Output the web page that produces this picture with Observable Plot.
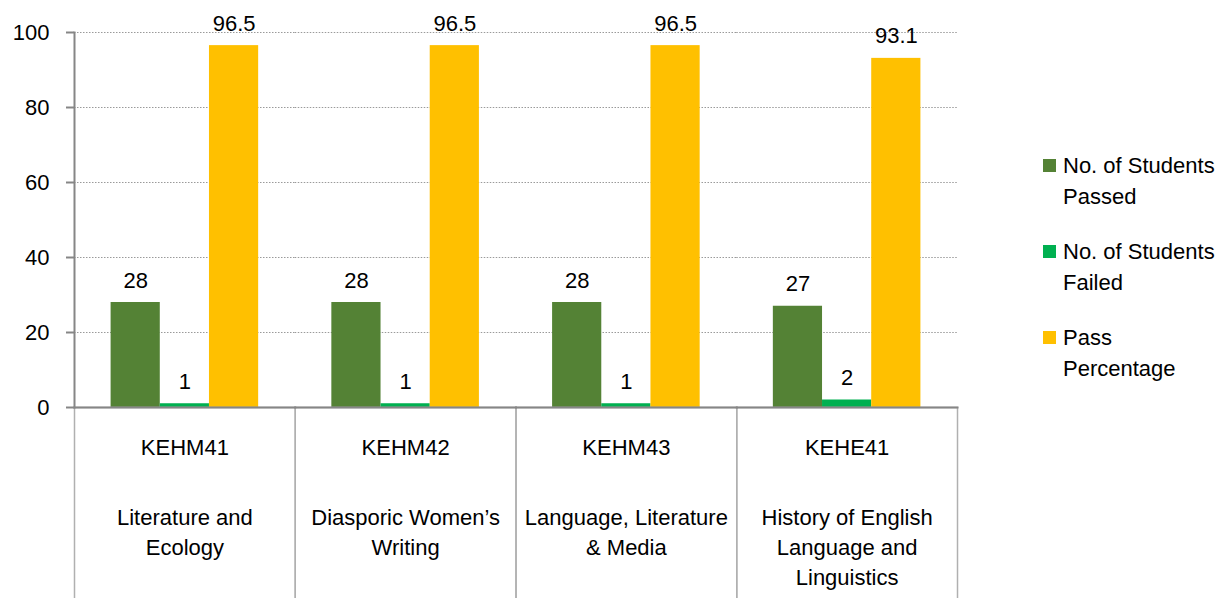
<!DOCTYPE html>
<html>
<head>
<meta charset="utf-8">
<script src="https://cdn.jsdelivr.net/npm/d3@7"></script>
<script src="https://cdn.jsdelivr.net/npm/@observablehq/plot@0.6"></script>
<style>
  html, body { margin: 0; padding: 0; background: #fff; }
  #wrap { position: relative; width: 1223px; height: 598px; font-family: "Liberation Sans", Arial, sans-serif; }
  #legend { position: absolute; left: 1043px; top: 150px; font-size: 22px; line-height: 31px; color: #000; }
  .item { position: relative; padding-left: 20px; white-space: pre-line; margin-bottom: 24px; }
  .sw { position: absolute; left: 0; top: 9px; width: 13px; height: 13px; }
</style>
</head>
<body>
<div id="wrap"></div>
<script>
const codes = ["KEHM41", "KEHM42", "KEHM43", "KEHE41"];
const names = ["Literature and\nEcology", "Diasporic Women’s\nWriting", "Language, Literature\n& Media", "History of English\nLanguage and\nLinguistics"];
const series = ["No. of Students\nPassed", "No. of Students\nFailed", "Pass\nPercentage"];
const passed = [28, 28, 28, 27];
const failed = [1, 1, 1, 2];
const passPct = [96.5, 96.5, 96.5, 93.1];
const colors = ["#548235", "#00B050", "#FFC000"];
const yTicks = [0, 20, 40, 60, 80, 100];

const rows = [];
codes.forEach((c, i) => {
  [passed[i], failed[i], passPct[i]].forEach((v, j) => rows.push({code: c, series: series[j], value: v}));
});
const cats = codes.map((c, i) => ({code: c, name: names[i]}));

const axisColor = "#868686";
const boxColor = "#b0b0b0";

const chart = Plot.plot({
  width: 1223,
  height: 598,
  marginLeft: 74,
  marginRight: 266,
  marginTop: 32,
  marginBottom: 191,
  style: {fontFamily: "'Liberation Sans', Arial, sans-serif", fontSize: "22px", color: "#000", background: "#fff", overflow: "visible"},
  fx: {domain: codes, padding: 0, round: false, axis: null},
  x: {domain: series, paddingInner: 0, paddingOuter: 0.744, round: false, axis: null},
  y: {domain: [0, 100], axis: null},
  color: {domain: series, range: colors},
  marks: [
    Plot.gridY(yTicks.filter(d => d > 0), {stroke: "#9a9a9a", strokeOpacity: 1, strokeWidth: 1, strokeDasharray: "1.5,1.5"}),
    Plot.barY(rows, {fx: "code", x: "series", y: "value", fill: "series"}),
    Plot.text(rows, {fx: "code", x: "series", y: "value", text: d => String(d.value), dy: -22, lineAnchor: "middle", fill: "#000"}),
    Plot.frame({insetTop: 375, insetBottom: -194, stroke: boxColor, strokeWidth: 1.5}),
    Plot.frame({anchor: "bottom", stroke: axisColor, strokeWidth: 2}),
    Plot.frame({anchor: "left", fx: codes[0], stroke: axisColor, strokeWidth: 2}),
    Plot.axisY({ticks: yTicks, tickSize: 8, tickPadding: 17, stroke: axisColor, strokeWidth: 2, label: null, fill: "#000"}),
    Plot.text(cats, {fx: "code", frameAnchor: "bottom", text: "code", dy: 40, lineAnchor: "middle", fill: "#000"}),
    Plot.text(cats, {fx: "code", frameAnchor: "bottom", text: "name", dy: 96, lineAnchor: "top", lineHeight: 30 / 22, fill: "#000"})
  ]
});

const wrap = document.getElementById("wrap");
wrap.appendChild(chart);

const legend = document.createElement("div");
legend.id = "legend";
series.forEach((s, i) => {
  const item = document.createElement("div");
  item.className = "item";
  const sw = document.createElement("span");
  sw.className = "sw";
  sw.style.background = colors[i];
  item.appendChild(sw);
  item.appendChild(document.createTextNode(s));
  legend.appendChild(item);
});
wrap.appendChild(legend);
</script>
</body>
</html>
